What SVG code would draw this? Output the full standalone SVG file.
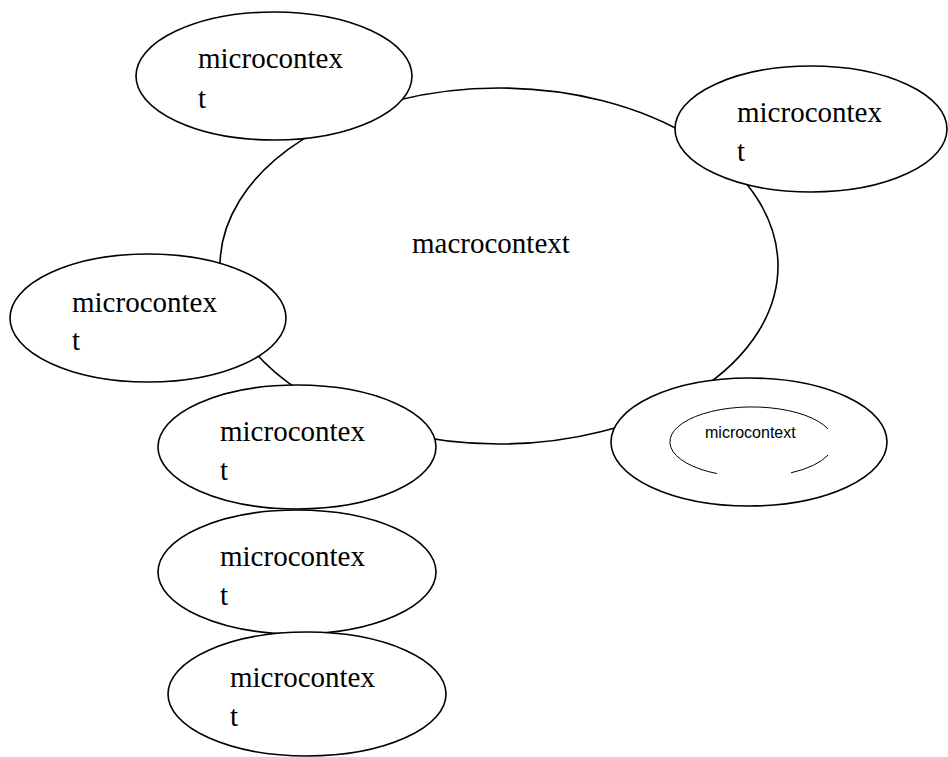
<svg xmlns="http://www.w3.org/2000/svg" width="948" height="757" viewBox="0 0 948 757">
<style>
.e{fill:#fff;stroke:#000;stroke-width:1.6}
.t{font-family:"Liberation Serif","Times New Roman",serif;font-size:29px;fill:#000}
.s{font-family:"Liberation Sans",Arial,sans-serif;font-size:16px;fill:#000}
</style>
<rect width="948" height="757" fill="#fff"/>
<g id="macro">
<ellipse class="e" cx="499" cy="266" rx="279" ry="178"/>
<text class="t" x="412" y="253">macrocontext</text>
</g>
<g id="micro-topleft">
<ellipse class="e" cx="274" cy="76" rx="138" ry="64"/>
<text class="t" x="198" y="68">microcontex</text>
<text class="t" x="198" y="108">t</text>
</g>
<g id="micro-topright">
<ellipse class="e" cx="811" cy="129" rx="136" ry="63"/>
<text class="t" x="737" y="122">microcontex</text>
<text class="t" x="737" y="161">t</text>
</g>
<g id="micro-left">
<ellipse class="e" cx="148" cy="318" rx="138" ry="64"/>
<text class="t" x="72" y="312">microcontex</text>
<text class="t" x="72" y="350">t</text>
</g>
<g id="micro-right">
<ellipse class="e" cx="749" cy="442" rx="138" ry="64"/>
<path d="M717 473.6 A82 35 0 1 1 828 428.9" fill="none" stroke="#000" stroke-width="1"/>
<path d="M828 455.1 A82 35 0 0 1 791 472.8" fill="none" stroke="#000" stroke-width="1"/>
<text class="s" x="705" y="438">microcontext</text>
</g>
<g id="micro-bottom1">
<ellipse class="e" cx="297" cy="447" rx="139" ry="62"/>
<text class="t" x="220" y="441">microcontex</text>
<text class="t" x="220" y="480">t</text>
</g>
<g id="micro-bottom2">
<ellipse class="e" cx="297" cy="572" rx="139" ry="62"/>
<text class="t" x="220" y="566">microcontex</text>
<text class="t" x="220" y="605">t</text>
</g>
<g id="micro-bottom3">
<ellipse class="e" cx="307" cy="694" rx="139" ry="62"/>
<text class="t" x="230" y="687">microcontex</text>
<text class="t" x="230" y="726">t</text>
</g>
<g id="connectors"></g>
</svg>
